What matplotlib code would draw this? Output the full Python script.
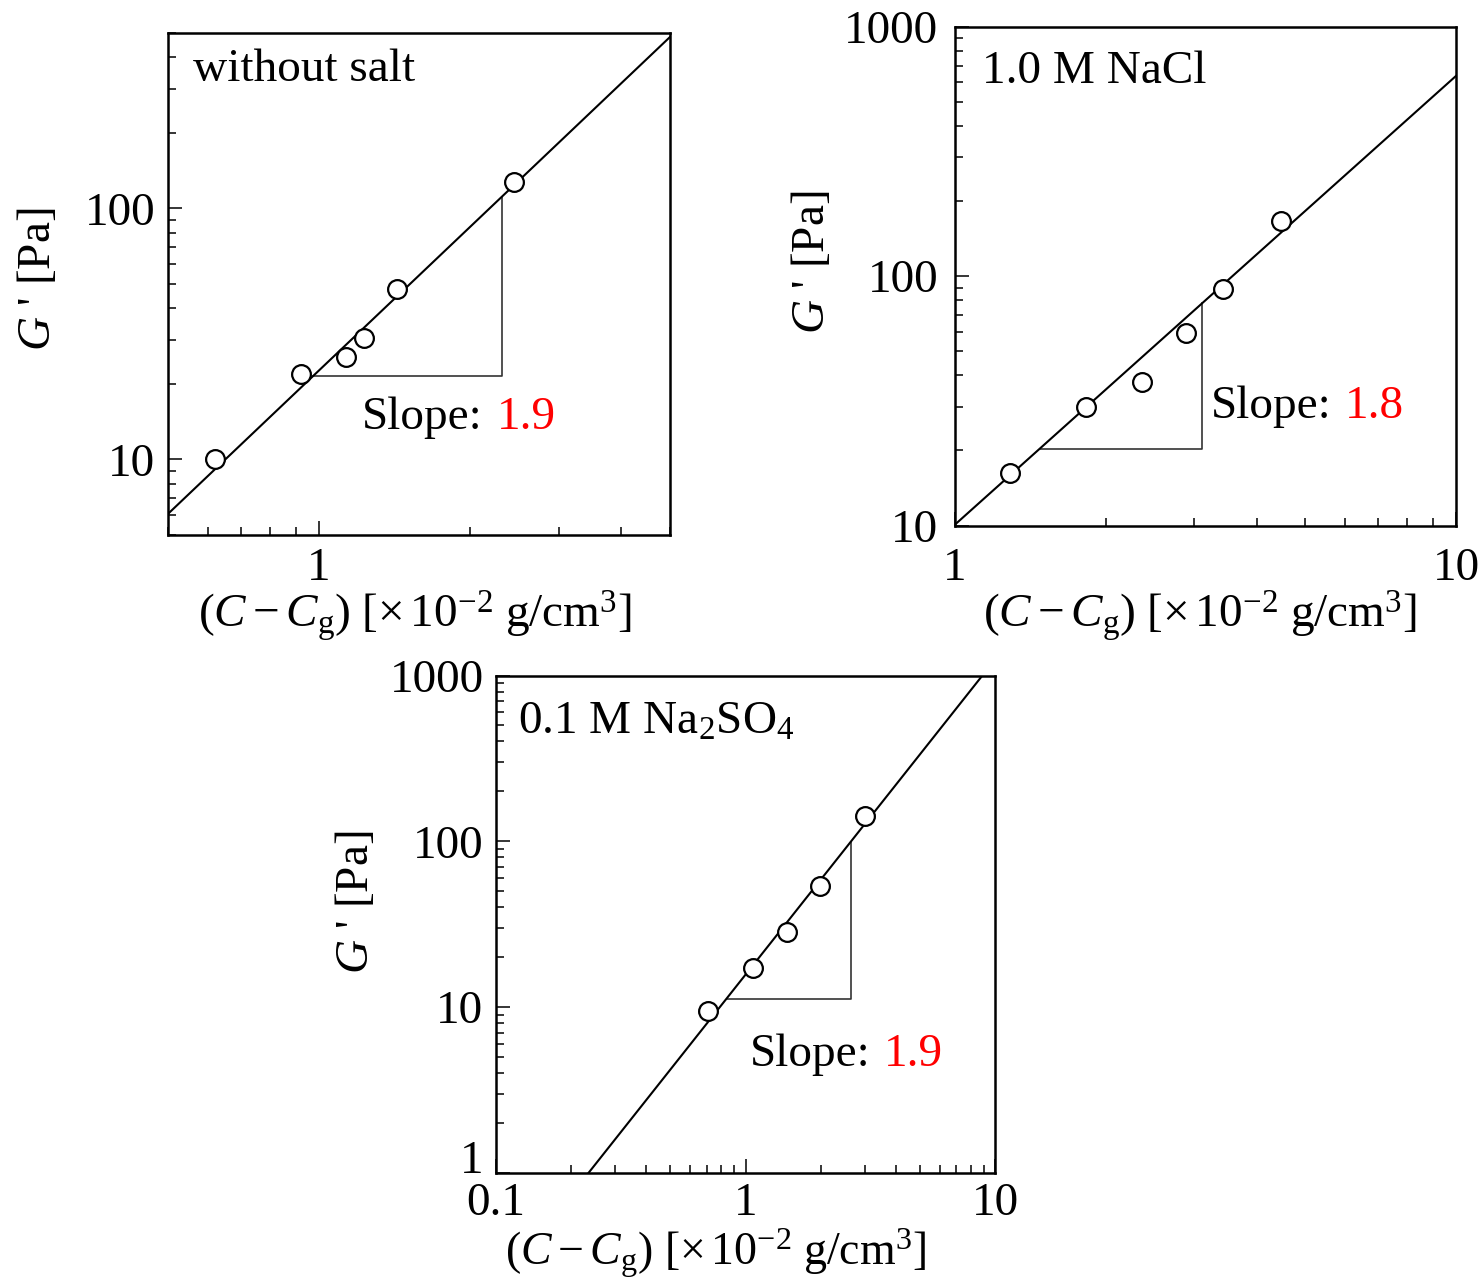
import matplotlib
matplotlib.use("Agg")
import numpy as np
import matplotlib.pyplot as plt
from matplotlib.ticker import LogLocator, NullFormatter, FuncFormatter

plt.rcParams['font.family'] = ['Liberation Serif', 'DejaVu Serif']
plt.rcParams['mathtext.fontset'] = 'custom'
plt.rcParams['mathtext.rm'] = 'Liberation Serif'
plt.rcParams['mathtext.it'] = 'Liberation Serif:italic'
plt.rcParams['mathtext.bf'] = 'Liberation Serif:bold'

# ---- data: storage modulus G' vs. (C - Cg) ----
salt_free_c = [0.62, 0.92, 1.13, 1.23, 1.43, 2.45]
salt_free_g = [10.0, 21.8, 25.7, 30.6, 47.7, 128.0]

nacl_c = [1.29, 1.83, 2.36, 2.89, 3.42, 4.48]
nacl_g = [16.2, 30.0, 37.5, 59.3, 88.7, 166.0]

na2so4_c = [0.71, 1.07, 1.47, 1.99, 3.02]
na2so4_g = [9.5, 17.2, 28.4, 54.1, 143.0]

# power-law fits: slope and one point on each fit line
fit_slopes = [1.9, 1.8, 1.9]
fit_anchor_c = [1.572, 3.285, 1.445]
fit_anchor_g = [53.5, 85.8, 31.6]

# horizontal extent of the slope triangles
triangle_c = [(0.974, 2.31), (1.476, 3.114), (0.84, 2.64)]

panel_titles = ['without salt', '1.0 M NaCl', r'0.1 M Na$_2$SO$_4$']
x_limits = [(0.5, 5.0), (1.0, 10.0), (0.1, 10.0)]
y_limits = [(5.0, 500.0), (10.0, 1000.0), (1.0, 1000.0)]

FS = 34
XLABEL = r'$(C-C_{\mathrm{g}})\ [\times\,10^{-2}\ \mathrm{g/cm^{3}}]$'
YLABEL = r"$G$ ' [Pa]"

fig = plt.figure(figsize=(14.84, 12.82), dpi=100)
W, H = 1484.0, 1282.0


def axes_px(left, top, right, bottom):
    return fig.add_axes([left / W, 1 - bottom / H, (right - left) / W, (bottom - top) / H])


axs = [
    axes_px(168, 33, 670, 535),
    axes_px(955, 27, 1456, 525.5),
    axes_px(496, 675.5, 995, 1173),
]

series = [(salt_free_c, salt_free_g), (nacl_c, nacl_g), (na2so4_c, na2so4_g)]
title_pos = [(0.0498, 0.905), (0.0533, 0.887), (0.0445, 0.884)]
slope_pos = [(0.386, 0.212), (0.510, 0.2157), (0.508, 0.216)]
xpads = [9, 16, 7]
ypads = [9, 12, 9]

fmt = FuncFormatter(lambda v, p: f'{v:g}')

for i, ax in enumerate(axs):
    cx, gy = series[i]
    slope = fit_slopes[i]
    c0, g0 = fit_anchor_c[i], fit_anchor_g[i]
    xlo, xhi = x_limits[i]

    def fit(c):
        return g0 * (np.asarray(c) / c0) ** slope

    ax.set_xscale('log')
    ax.set_yscale('log')
    ax.set_xlim(*x_limits[i])
    ax.set_ylim(*y_limits[i])

    # fitted power law across the whole panel
    xs = np.logspace(np.log10(xlo), np.log10(xhi), 100)
    ax.plot(xs, fit(xs), color='black', lw=1.5, zorder=2)

    # slope triangle under the fit line
    ca, cb = triangle_c[i]
    ya, yb = fit(ca), fit(cb)
    ax.plot([ca, cb, cb], [ya, ya, yb], color='#333333', lw=1.2, zorder=1)

    # measured points
    ax.plot(cx, gy, linestyle='none', marker='o', ms=13.5, mfc='white',
            mec='black', mew=1.6, zorder=3)

    # axis cosmetics
    for sp in ax.spines.values():
        sp.set_linewidth(1.8)
    ax.xaxis.set_major_locator(LogLocator(base=10, numticks=20))
    ax.yaxis.set_major_locator(LogLocator(base=10, numticks=20))
    ax.xaxis.set_minor_locator(LogLocator(base=10, subs=np.arange(2, 10), numticks=50))
    ax.yaxis.set_minor_locator(LogLocator(base=10, subs=np.arange(2, 10), numticks=50))
    ax.xaxis.set_major_formatter(fmt)
    ax.yaxis.set_major_formatter(fmt)
    ax.xaxis.set_minor_formatter(NullFormatter())
    ax.yaxis.set_minor_formatter(NullFormatter())
    ax.tick_params(which='both', direction='in', top=False, right=False, width=1.1)
    ax.tick_params(which='major', length=10, labelsize=FS)
    ax.tick_params(which='minor', length=6)
    ax.tick_params(axis='x', which='major', pad=xpads[i])
    ax.tick_params(axis='y', which='major', pad=ypads[i])

    # panel title
    ax.text(*title_pos[i], panel_titles[i], transform=ax.transAxes,
            fontsize=FS, ha='left', va='baseline')

    # slope annotation: black caption, red value
    t1 = ax.text(*slope_pos[i], 'Slope:', transform=ax.transAxes,
                 fontsize=FS, ha='left', va='baseline')
    ax.annotate(f'{slope:.1f}', xy=(1, 0), xycoords=t1, xytext=(10, 0),
                textcoords='offset points', fontsize=FS, color='red',
                ha='left', va='bottom')

# axis titles (the bottom one is a touch smaller to fit under its tick labels)
xlabel_spec = [(415, 616, FS), (1200, 616, FS), (716, 1253, 33)]
ylabel_pos = [(38, 279), (812, 262), (357, 902)]
for (x, y, fs) in xlabel_spec:
    fig.text(x / W, 1 - y / H, XLABEL, fontsize=fs, ha='center', va='center')
for (x, y) in ylabel_pos:
    fig.text(x / W, 1 - y / H, YLABEL, fontsize=FS, ha='center', va='center',
             rotation=90)

# the lowest y label of the bottom panel sits on its baseline, above the x labels
fig.canvas.draw()
for tick in axs[2].yaxis.get_major_ticks():
    if np.isclose(tick.get_loc(), 1.0):
        tick.label1.set_verticalalignment('baseline')

fig.savefig('out.png', dpi=100, facecolor='white')
